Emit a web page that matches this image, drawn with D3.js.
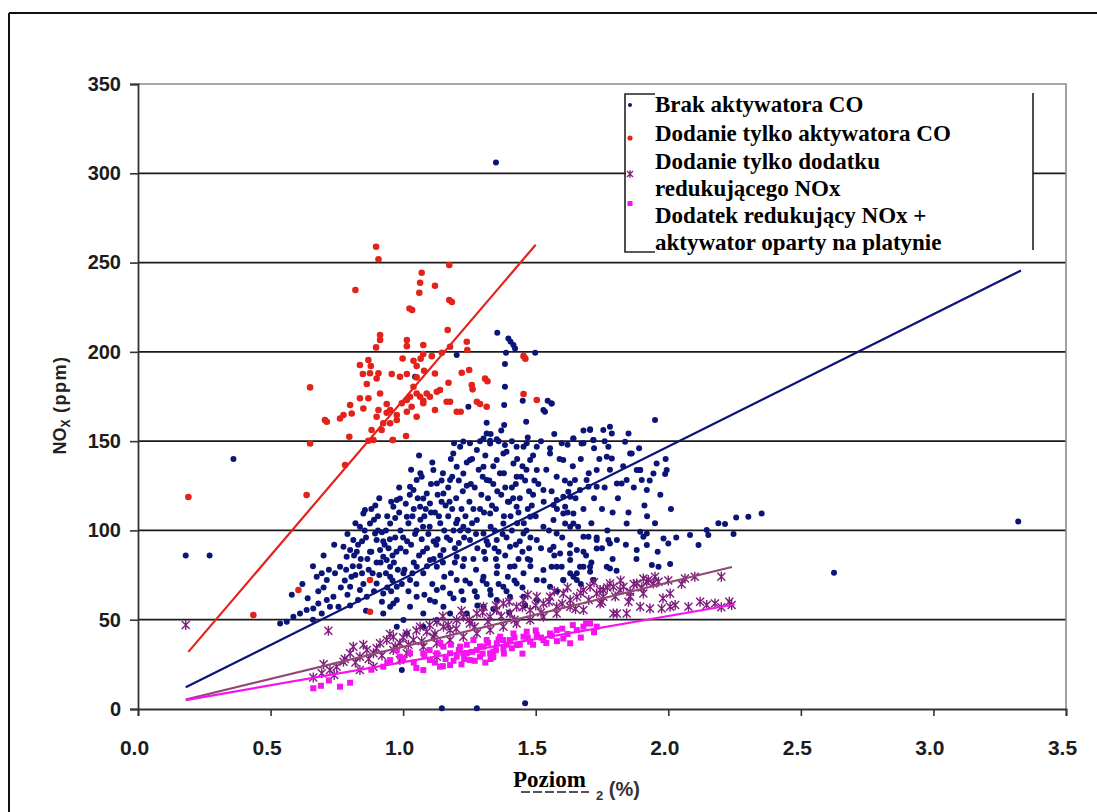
<!DOCTYPE html>
<html>
<head>
<meta charset="utf-8">
<script src="https://cdn.jsdelivr.net/npm/d3@7"></script>
<style>
  body { margin: 0; background: #fff; }
  svg { display: block; }
</style>
</head>
<body>
<svg id="chart" width="1097" height="812"></svg>
<script>
// ---- Axis ticks ----
const xTicks = [0, 0.5, 1.0, 1.5, 2.0, 2.5, 3.0, 3.5];
const yTicks = [0, 50, 100, 150, 200, 250, 300, 350];

// ---- Legend entries ----
const legendLines = [
  "Brak aktywatora CO",
  "Dodanie tylko aktywatora CO",
  "Dodanie tylko dodatku",
  "redukującego NOx",
  "Dodatek redukujący NOx +",
  "aktywator oparty na platynie"
];

// ---- Series: [excess O2 %, NOx ppm] ----
const brakAktywatora = [
  [0.18,86],[0.27,86],[0.36,140],[1.35,306],
  [0.536,47.9],[0.561,48.9],[0.586,51.7],[0.611,53.5],[0.636,55.4],[0.661,56.3],[0.680,59.1],[0.712,61.0],
  [0.737,62.9],[0.756,57.3],[0.724,57.3],[0.693,53.5],
  [0.674,74.1],[0.693,76.0],[0.712,72.2],[0.743,76.0],[0.762,79.7],[0.787,85.3],[0.800,89.0],[0.775,90.9],
  [0.812,94.6],[0.837,102.1],[0.850,109.5],[0.856,111.4],[0.875,103.9],[0.894,98.3],[0.900,94.6],[0.913,89.0],
  [0.925,85.3],[0.938,83.4],[0.951,79.7],[0.951,103.9],[0.976,117.0],[0.963,113.3],[0.988,117.9],[1.014,107.7],
  [1.026,124.5],[1.039,122.6],[1.051,128.2],[1.064,113.3],[1.076,117.9],[1.089,120.7],[1.101,115.1],[1.114,133.8],
  [1.127,126.3],[1.152,120.7],[1.177,128.2],[1.189,143.1],[1.202,135.7],[1.215,146.9],[1.227,131.9],[1.252,139.4],
  [1.278,145.0],[1.303,135.7],[1.315,128.2],[1.328,148.7],[1.353,139.4],[1.378,143.1],[1.416,137.5],[1.428,130.1],
  [1.454,146.9],[1.479,139.4],[1.504,133.8],[1.529,122.6],[1.554,143.1],[1.579,130.1],[1.604,139.4],[1.630,118.9],
  [1.667,122.6],[1.692,128.2],[1.730,133.8],[1.768,141.3],[1.806,126.3],[1.856,143.1],[1.894,133.8],[1.919,122.6],
  [0.800,68.5],[0.837,66.6],[0.863,62.9],[0.900,70.3],[0.925,64.7],[0.951,74.1],[0.976,68.5],[1.001,76.0],
  [1.026,72.2],[1.051,79.7],[1.076,76.0],[1.101,83.4],[1.127,79.7],[1.152,89.0],[1.177,94.6],[1.202,85.3],
  [1.227,102.1],[1.252,94.6],[1.278,105.8],[1.303,98.3],[1.328,109.5],[1.353,94.6],[1.378,103.9],[1.403,90.9],
  [1.428,113.3],[1.454,98.3],[1.479,107.7],[1.504,94.6],[1.529,102.1],[1.554,89.0],[1.579,98.3],[1.604,109.5],
  [1.630,102.1],[1.655,89.0],[1.680,96.5],[1.705,79.7],[1.730,94.6],[1.768,79.7],[1.806,94.6],[1.843,103.9],
  [1.881,89.0],[1.919,98.3],
  [0.925,53.5],[0.951,57.3],[0.976,61.0],[1.001,49.8],[1.026,57.3],[1.051,62.9],[1.076,53.5],[1.101,61.0],
  [1.127,66.6],[1.152,57.3],[1.177,64.7],[1.202,72.2],[1.227,61.0],[1.252,70.3],[1.278,62.9],[1.303,74.1],
  [1.328,66.6],[1.353,76.0],[1.378,68.5],[1.403,79.7],[1.428,70.3],[1.454,76.0],[1.479,83.4],[1.504,72.2],
  [1.529,77.8],[1.554,68.5],[1.579,79.7],[1.604,72.2],[1.630,83.4],[1.655,76.0],[1.680,79.7],[1.718,72.2],
  [0.963,59.1],[0.976,46.1],[1.014,42.3],[1.076,46.1],[1.127,49.8],[1.177,53.5],[1.240,53.5],[1.303,57.3],
  [1.353,61.0],[1.403,62.9],[1.454,62.9],[1.504,61.0],
  [0.995,21.8],[1.146,0.4],[1.278,0.4],[1.460,3.2],
  [1.560,171.1],[1.642,151.5],[1.673,148.7],[1.705,156.2],[1.717,150.6],[1.755,156.2],[1.780,158.1],[1.787,154.3],
  [1.774,146.9],[1.850,154.3],[1.837,149.7],[1.950,161.8],[1.862,143.1],[1.787,140.3],[1.956,137.5],[1.881,133.8],
  [1.894,133.8],[1.994,133.8],[1.988,131.6],[1.944,131.9],[1.900,128.2],[1.824,126.3],[1.843,128.2],[1.730,124.5],
  [1.699,124.5],[1.648,128.2],[1.629,126.3],[1.623,121.7],[1.604,118.9],[1.579,117.0],[1.567,114.2],[1.611,113.3],
  [1.642,109.5],[1.642,103.9],[1.611,103.9],[1.567,105.8],[1.699,96.5],[1.774,94.6],[1.780,92.7],[1.894,99.3],
  [1.906,96.5],[1.919,91.8],[1.982,95.5],[2.000,92.7],[2.082,97.4],[2.114,91.8],[2.145,100.2],[2.151,97.4],
  [2.189,104.0],[2.214,103.6],[2.246,98.0],[2.256,107.3],[2.302,107.7],[2.352,109.5],[1.938,80.6],[1.963,79.7],
  [2.007,81.2],[1.780,78.7],[1.805,77.4],[1.705,76.9],[1.667,79.7],[1.642,74.1],[1.604,72.2],[1.567,90.9],
  [1.592,87.1],[1.629,87.1],[1.680,88.1],[1.730,89.9],[1.560,79.7],[1.598,79.7],[1.655,72.2],[1.717,72.2],
  [2.625,76.3],[3.32,105],
  [1.355,210.7],[1.397,207.5],[1.405,205.7],[1.416,203.8],[1.422,201.9],[1.388,199.5],[1.498,199.5],[1.384,193.2],
  [1.384,180.5],[1.381,170.2],[1.451,172.6],[1.545,172.6],[1.560,171.1],[1.529,167.4],[1.535,166.5],[1.315,160.3],
  [1.381,159.0],[1.464,160.9],[1.246,169.3],[1.202,198.2],[1.045,186.1],[1.705,156.6],
  [1.192,148.8],[1.227,149.8],[1.252,148.8],[1.303,151.5],[1.315,154.3],[1.328,150.2],[1.353,151.0],[1.384,147.9],
  [1.428,146.9],[1.466,148.8],[1.504,146.9],[1.554,146.0],[1.598,148.8],[1.642,151.5],[1.680,148.8],[1.718,150.6],
  // dense core, left part
  [0.78,72],[0.79,64],[0.81,80],[0.82,75],[0.83,92],[0.84,84],[0.85,70],[0.86,96],[0.87,78],[0.88,88],
  [0.89,106],[0.90,82],[0.91,75],[0.92,99],[0.93,92],[0.94,68],[0.95,95],[0.96,86],[0.97,107],[0.98,78],
  [0.99,100],[0.80,58],[0.83,61],[0.86,55],[0.89,66],[0.92,60],[0.96,72],[0.99,90],[0.88,112],[0.91,118],
  [0.94,108],[0.97,96],[0.79,98],[0.82,104],
  [0.58,64],[0.62,70],[0.64,62],[0.66,80],[0.68,66],[0.70,86],[0.72,78],[0.74,92],[0.66,50],[0.70,68],
  [0.765,68],[0.785,78],[0.805,74],[0.825,88],[0.845,94],[0.865,84],[0.885,76],[0.905,100],[0.925,94],[0.945,90],
  [0.965,82],[0.985,110],[0.835,80],[0.855,100],[0.895,114],[0.915,82],[0.935,76],[0.955,66],[0.975,88],[0.995,70],
  // dense core, centre
  [1.00,96],[1.01,88],[1.02,104],[1.03,92],[1.04,112],[1.05,100],[1.06,86],[1.07,95],[1.08,108],[1.09,90],
  [1.10,102],[1.11,70],[1.12,110],[1.13,95],[1.14,104],[1.15,82],[1.16,114],[1.17,108],[1.18,76],[1.19,100],
  [1.20,118],[1.21,93],[1.22,112],[1.23,84],[1.24,125],[1.02,66],[1.05,70],[1.08,64],[1.12,60],[1.15,68],
  [1.19,62],[1.22,66],[1.03,134],[1.07,130],[1.11,138],[1.15,132],[1.18,140],[1.21,128],[1.24,138],[1.06,142],
  [1.13,120],[1.17,124],[1.09,80],[1.14,86],[1.23,96],[1.20,104],[1.01,115],[1.04,82],
  [1.005,78],[1.025,120],[1.045,98],[1.065,132],[1.085,112],[1.105,126],[1.125,92],[1.145,116],[1.165,96],
  [1.185,130],[1.205,106],[1.225,80],[1.245,100],[1.265,84],[1.285,134],[1.305,110],[1.325,128],[1.345,100],
  [1.365,132],[1.385,86],[1.405,108],[1.425,92],[1.445,130],[1.465,100],[1.485,114],[1.035,108],[1.075,102],
  [1.115,84],[1.155,100],[1.195,90],[1.235,108],[1.275,98],[1.315,94],[1.355,122],[1.395,116],[1.435,110],
  [1.475,122],[0.955,116],[0.985,124],[0.935,100],[0.905,108],[0.875,88],[0.845,76],[0.815,86],
  [1.015,94],[1.055,118],[1.095,98],[1.135,108],[1.175,116],[1.215,100],[1.255,126],[1.295,120],[1.335,114],
  [1.375,98],[1.415,118],[1.455,104],[1.495,128],[1.035,76],[1.075,88],[1.115,94],[1.155,74],[1.195,82],
  [1.235,72],[1.275,78],[1.315,70],[1.355,80],[1.395,74],[1.435,84],[1.475,90],[1.065,106],[1.105,110],
  [1.145,128],[1.185,112],[1.225,122],[1.265,112],[1.305,88],[1.345,90],[1.385,124],[1.425,126],[1.465,134],
  // dense core, right of centre
  [1.25,116],[1.26,104],[1.27,124],[1.28,90],[1.29,112],[1.30,130],[1.31,84],[1.32,118],[1.33,102],[1.34,126],
  [1.35,112],[1.36,88],[1.37,120],[1.38,132],[1.39,96],[1.40,116],[1.41,124],[1.42,80],[1.43,104],[1.44,118],
  [1.45,88],[1.46,128],[1.47,112],[1.48,96],[1.49,120],[1.26,140],[1.29,150],[1.31,142],[1.33,154],[1.34,136],
  [1.36,150],[1.37,156],[1.39,144],[1.41,150],[1.43,140],[1.45,136],[1.47,152],[1.49,142],[1.27,66],[1.30,72],
  [1.33,64],[1.36,70],[1.39,66],[1.42,72],[1.45,68],[1.48,80],[1.32,92],[1.35,84],[1.38,108],[1.41,100],
  [1.44,94],[1.47,84],[1.28,58],[1.34,56],[1.40,54],[1.46,58],
  [1.50,108],[1.51,126],[1.52,90],[1.53,116],[1.54,134],[1.55,100],[1.56,122],[1.57,86],[1.58,112],[1.59,140],
  [1.60,96],[1.61,128],[1.62,110],[1.63,92],[1.64,136],[1.65,118],[1.66,102],[1.67,140],[1.68,112],[1.69,86],
  [1.70,132],[1.71,104],[1.72,118],[1.73,96],[1.74,140],[1.75,112],[1.76,124],[1.77,100],[1.78,134],[1.79,110],
  [1.52,150],[1.57,154],[1.62,148],[1.68,156],[1.72,146],[1.76,150],[1.53,72],[1.58,66],[1.63,76],[1.67,70],
  [1.71,82],[1.75,90],[1.79,84],
  [1.81,118],[1.83,136],[1.85,110],[1.87,124],[1.89,146],[1.91,114],[1.93,128],[1.95,104],[1.97,120],[1.99,140],
  [2.01,112],[2.03,96],[1.84,92],[1.88,84],[1.92,108],[1.96,88]
];

const tylkoAktywatorCO = [
  [0.19,118.7],[0.435,52.6],
  [0.898,258.9],[0.907,251.8],[1.174,248.6],[1.070,244.3],[1.064,238.7],[1.120,237.0],[1.061,233.1],[0.820,234.6],
  [1.174,229.0],[1.184,227.9],[1.024,224.3],[1.034,223.4],[1.168,212.2],[0.913,209.4],[0.913,206.6],[0.898,202.5],
  [1.014,206.6],[1.014,203.2],[1.076,203.8],[1.177,202.9],[1.240,205.7],[1.242,201.0],[1.146,199.5],[1.108,197.6],
  [1.076,198.8],[0.837,192.6],[0.869,195.4],[0.878,192.1],[0.998,196.3],[1.039,195.0],[1.051,192.1],[1.066,196.2],
  [0.907,188.0],[0.875,188.0],[0.848,187.6],[0.863,182.0],[0.900,185.1],[0.957,187.6],[0.988,186.1],[1.014,187.6],
  [1.051,185.7],[1.079,189.4],[1.120,187.9],[1.171,182.7],[1.221,188.3],[1.249,189.8],[1.309,185.0],[1.318,183.5],
  [1.259,181.4],[1.262,179.0],[0.649,180.1],[1.039,180.5],[1.051,176.7],[1.026,174.9],[1.064,174.9],[1.089,176.7],
  [1.127,177.7],[1.139,178.6],[1.076,172.6],[1.101,174.9],[0.913,176.7],[0.837,174.0],[0.869,174.0],[0.800,170.2],
  [0.775,164.6],[0.762,162.7],[0.712,160.9],[0.705,161.8],[0.806,165.5],[0.850,168.3],[0.907,167.4],[0.938,165.9],
  [0.951,167.4],[0.976,164.6],[0.995,171.2],[1.014,173.0],[0.938,170.8],[0.925,160.0],[0.900,163.7],[0.881,156.2],
  [0.919,156.2],[0.951,160.0],[0.976,161.8],[1.014,166.5],[1.051,163.7],[1.032,169.3],[1.076,171.2],[1.120,167.4],
  [1.164,172.1],[1.177,172.1],[1.202,166.5],[1.217,166.5],[1.278,172.1],[1.290,170.8],[1.315,169.3],[1.454,176.4],
  [1.504,173.0],[1.454,197.6],[1.461,196.2],[0.797,152.5],[0.961,150.6],[1.011,152.9],[0.869,150.2],[0.649,148.7],
  [0.781,136.6],[0.636,119.8],[0.605,66.6],[0.875,72.2],[0.875,54.5],[0.888,150.6],[0.961,150.6]
];

const tylkoDodatekNOx = [
  [0.18,47],[0.718,43.8],
  [0.661,17.7],[0.693,20.0],[0.724,21.8],[0.749,23.7],[0.775,26.5],[0.800,31.2],[0.812,34.9],[0.837,29.3],
  [0.863,33.0],[0.888,31.2],[0.913,36.8],[0.938,38.6],[0.963,40.5],[0.988,36.8],[1.014,42.3],[1.039,38.6],
  [1.064,46.1],[1.089,43.3],[1.114,40.5],[1.127,48.9],[1.152,46.1],[1.177,44.2],[1.202,49.8],[1.227,51.7],
  [1.252,47.9],[1.278,53.5],[1.303,57.3],[1.328,51.7],[1.353,55.4],[1.378,59.1],[1.403,53.5],[1.428,57.3],
  [1.454,61.0],[1.479,55.4],[1.504,62.9],[1.529,59.1],[1.554,62.9],[1.579,57.3],[1.604,64.7],[1.630,61.0],
  [1.655,62.9],[1.680,66.6],[1.705,68.5],[1.730,64.7],[1.755,66.6],[1.780,70.3],[1.806,53.5],[1.831,68.5],
  [1.856,62.9],[1.881,70.3],[1.906,64.7],[1.925,72.2],
  [0.963,33.0],[1.014,31.2],[1.076,34.9],[1.127,36.8],[1.177,38.6],[1.227,40.5],[1.278,42.3],[1.328,44.2],
  [1.378,46.1],[1.428,47.9],[1.479,49.8],[1.529,51.7],[1.579,53.5],[1.630,57.3],[1.680,55.4],
  [0.888,23.7],[0.837,21.8],[0.988,27.4],[1.127,29.3],
  [1.743,66.6],[1.793,68.5],[1.818,66.6],[1.856,65.7],[1.906,73.1],[1.919,71.3],[1.944,70.3],[1.963,71.3],
  [2.063,73.1],[2.007,64.7],[1.793,53.5],[1.843,53.5],[1.894,57.3],[1.931,56.3],[1.975,56.3],[2.007,57.3],
  [2.026,58.2],[2.076,57.3],[2.145,58.2],[2.176,59.1],[2.239,58.2],[1.743,59.1],[1.755,62.9],
  [0.70,25],[0.74,19],[0.78,28],[0.82,26],[0.85,36],[0.87,28],[0.90,34],[0.92,30],[0.95,42],[0.97,35],
  [1.00,40],[1.02,36],[1.05,44],[1.07,38],[1.10,47],[1.12,42],[1.15,52],[1.17,47],[1.20,45],[1.22,55],
  [1.25,50],[1.27,46],[1.30,54],[1.32,49],[1.35,58],[1.37,52],[1.40,60],[1.42,50],[1.45,57],[1.47,64],
  [1.50,58],[1.52,54],[1.55,60],[1.57,66],[1.60,59],[1.62,68],[1.65,56],[1.67,65],[1.70,61],[1.72,71],
  [1.75,60],[1.77,68],[1.80,63],[1.82,72],[1.85,60],[1.87,70],[1.90,68],[1.95,74],[2.00,72],[2.05,70],
  [2.10,74],[2.20,74],[2.12,60],[2.20,57],[2.23,60],[1.98,62]
];

const dodatekIPlatyna = [
  [0.661,11.6],[0.762,12.5],[0.800,14.7],[1.076,21.8],[1.139,23.7],[1.177,24.6],[1.202,29.3],[1.227,31.2],
  [1.252,27.4],[1.278,33.0],[1.303,34.9],[1.328,31.2],[1.353,36.8],[1.378,33.9],[1.403,38.6],[1.428,35.8],
  [1.454,40.5],[1.479,37.7],[1.504,41.4],[1.529,38.6],[1.554,42.3],[1.579,44.2],[1.604,39.5],[1.630,36.8],
  [1.655,44.2],[1.680,46.1],[1.705,47.9],[1.730,46.1],[1.215,34.9],[1.265,38.6],[1.315,38.6],[1.366,40.5],
  [1.416,42.3],[1.466,43.3],[1.240,31.2],[1.290,29.3],[1.340,32.1],[1.378,38.6],[1.127,31.2],[1.152,34.9],
  [1.177,31.2],[1.101,27.4],[1.076,31.2],[1.026,31.2],[0.988,29.3],[0.951,27.4],[0.925,23.7],[0.976,33.0],
  [0.88,22],[0.94,26],[1.00,28],[1.04,26],[1.08,30],[1.10,33],[1.12,26],[1.14,37],[1.16,28],[1.18,36],
  [1.19,27],[1.21,33],[1.23,28],[1.24,36],[1.26,32],[1.27,27],[1.29,35],[1.30,31],[1.31,26],[1.32,37],
  [1.34,29],[1.35,33],[1.36,39],[1.38,31],[1.39,36],[1.41,34],[1.42,40],[1.44,36],[1.45,31],[1.47,40],
  [1.49,36],[1.50,44],[1.52,40],[1.54,37],[1.56,41],[1.58,38],[1.60,45],[1.62,42],[1.64,47],[1.67,40],
  [1.69,48],[1.72,43],[1.15,24],[1.22,25],[1.33,28],[1.05,23],[0.72,16],[0.69,13]
];

// ---- Linear trend lines (endpoints) ----
const trendBrak = [[0.18, 12.2], [3.33, 245.5]];
const trendAktywator = [[0.19, 32], [1.50, 260]];
const trendDodatek = [[0.18, 5.3], [2.24, 79.5]];
const trendPlatyna = [[0.18, 5.0], [2.25, 58.5]];

// ---- Colours ----
const colBlue = "#0b1577";
const colRed = "#e4221c";
const colPurple = "#7d1d7d";
const colPurpleLine = "#8f4a72";
const colMagenta = "#f514f0";

const svg = d3.select("#chart");
const W = 1097, H = 812;

// Outer frame
svg.append("line").attr("x1", 9).attr("x2", 9).attr("y1", 13).attr("y2", H)
  .attr("stroke", "#111").attr("stroke-width", 2);
svg.append("line").attr("x1", 9).attr("x2", W).attr("y1", 13).attr("y2", 13)
  .attr("stroke", "#111").attr("stroke-width", 2);

const x = d3.scaleLinear().domain([0, 3.5]).range([138, 1066]);
const y = d3.scaleLinear().domain([0, 350]).range([709, 84]);

// Gridlines
svg.append("g").selectAll("line")
  .data(yTicks.filter(v => v > 0 && v < 350))
  .join("line")
  .attr("x1", x(0)).attr("x2", x(3.5))
  .attr("y1", d => y(d)).attr("y2", d => y(d))
  .attr("stroke", "#1a1a1a").attr("stroke-width", 1.8);

// Plot area top and right border
svg.append("path")
  .attr("d", `M${x(0)},${y(350)}H${x(3.5)}V${y(0)}`)
  .attr("fill", "none").attr("stroke", "#8a8a8a").attr("stroke-width", 1.6);

// Axes
const yAxis = svg.append("g").attr("transform", `translate(${x(0)},0)`)
  .call(d3.axisLeft(y).tickValues(yTicks).tickSize(8).tickPadding(9).tickFormat(d3.format("d")));
const xAxis = svg.append("g").attr("transform", `translate(0,${y(0)})`)
  .call(d3.axisBottom(x).tickValues(xTicks).tickSize(7).tickFormat(d3.format(".1f")));

[yAxis, xAxis].forEach(g => {
  g.select(".domain").attr("stroke", "#333").attr("stroke-width", 1.8);
  g.selectAll(".tick line").attr("stroke", "#333").attr("stroke-width", 1.6);
  g.selectAll("text")
    .attr("fill", "#1c1c1c")
    .style("font-family", "'Liberation Sans', Arial, sans-serif")
    .style("font-weight", "bold");
});
yAxis.selectAll("text").style("font-size", "20px");
xAxis.selectAll("text").style("font-size", "21px")
  .attr("dy", null).attr("y", 46).attr("dx", -4);

const lineGen = d3.line().x(d => x(d[0])).y(d => y(d[1]));
const gPts = svg.append("g");

// Blue: no CO promoter
gPts.append("g").selectAll("circle").data(brakAktywatora).join("circle")
  .attr("cx", d => x(d[0])).attr("cy", d => y(d[1])).attr("r", 3)
  .attr("fill", colBlue);

// Red: CO promoter only
gPts.append("g").selectAll("circle").data(tylkoAktywatorCO).join("circle")
  .attr("cx", d => x(d[0])).attr("cy", d => y(d[1])).attr("r", 3.3)
  .attr("fill", colRed);

// Purple asterisks: NOx additive only
const star = "M-4,-4L4,4M-4,4L4,-4M0,-5L0,5";
gPts.append("g").selectAll("path").data(tylkoDodatekNOx).join("path")
  .attr("transform", d => `translate(${x(d[0])},${y(d[1])})`)
  .attr("d", star).attr("fill", "none")
  .attr("stroke", colPurple).attr("stroke-width", 1.4);

// Magenta squares: NOx additive + platinum promoter
gPts.append("g").selectAll("rect").data(dodatekIPlatyna).join("rect")
  .attr("x", d => x(d[0]) - 3).attr("y", d => y(d[1]) - 3)
  .attr("width", 6).attr("height", 6)
  .attr("fill", colMagenta);

// Trend lines
const gLines = svg.append("g").attr("fill", "none");
gLines.append("path").attr("d", lineGen(trendAktywator)).attr("stroke", colRed).attr("stroke-width", 2.2);
gLines.append("path").attr("d", lineGen(trendBrak)).attr("stroke", colBlue).attr("stroke-width", 2.2);
gLines.append("path").attr("d", lineGen(trendDodatek)).attr("stroke", colPurpleLine).attr("stroke-width", 2.2);
gLines.append("path").attr("d", lineGen(trendPlatyna)).attr("stroke", colMagenta).attr("stroke-width", 2.2);

// Legend
const lg = svg.append("g");
lg.append("rect").attr("x", 626).attr("y", 94).attr("width", 407).attr("height", 158).attr("fill", "#fff");
lg.append("path")
  .attr("d", "M655,94H625V252H655M1033,93V250")
  .attr("fill", "none").attr("stroke", "#222").attr("stroke-width", 1.6);
lg.append("circle").attr("cx", 630).attr("cy", 105).attr("r", 2).attr("fill", colBlue);
lg.append("circle").attr("cx", 630).attr("cy", 138).attr("r", 2.6).attr("fill", colRed);
lg.append("path").attr("transform", "translate(630,174)").attr("d", "M-3,-3L3,3M-3,3L3,-3M0,-4L0,4")
  .attr("stroke", colPurple).attr("stroke-width", 1.2);
lg.append("rect").attr("x", 627.5).attr("y", 201).attr("width", 5).attr("height", 5).attr("fill", colMagenta);

const legendBaselines = [112, 141, 169, 196, 223, 250];
lg.selectAll("text").data(legendLines).join("text")
  .attr("x", 655).attr("y", (d, i) => legendBaselines[i])
  .text(d => d)
  .style("font-family", "'Liberation Serif', 'Times New Roman', serif")
  .style("font-weight", "bold").style("font-size", "23px").attr("fill", "#000");

// Y axis title
const yt = svg.append("text")
  .attr("transform", "translate(66,405) rotate(-90)")
  .attr("text-anchor", "middle")
  .style("font-family", "'Liberation Sans', Arial, sans-serif")
  .style("font-weight", "bold").style("font-size", "18px").attr("fill", "#222");
yt.append("tspan").text("NO");
yt.append("tspan").text("X").attr("dy", 4).style("font-size", "12px");
yt.append("tspan").text(" (ppm)").attr("dy", -4).style("letter-spacing", "1.5px");

// X axis title: Polish label, with the tail of the original unit label beside it
svg.append("line").attr("x1", 521).attr("x2", 589).attr("y1", 792).attr("y2", 792)
  .attr("stroke", "#555").attr("stroke-width", 2).attr("stroke-dasharray", "9,3");
svg.append("text").attr("x", 513).attr("y", 787).text("Poziom")
  .style("font-family", "'Liberation Serif', 'Times New Roman', serif")
  .style("font-weight", "bold").style("font-size", "23px").attr("fill", "#000");
const xt = svg.append("text").attr("x", 596).attr("y", 800)
  .style("font-family", "'Liberation Sans', Arial, sans-serif")
  .style("font-weight", "bold").attr("fill", "#333");
xt.append("tspan").text("2").style("font-size", "13px");
xt.append("tspan").text(" (%)").attr("dy", -4).style("font-size", "20px");
</script>
</body>
</html>
